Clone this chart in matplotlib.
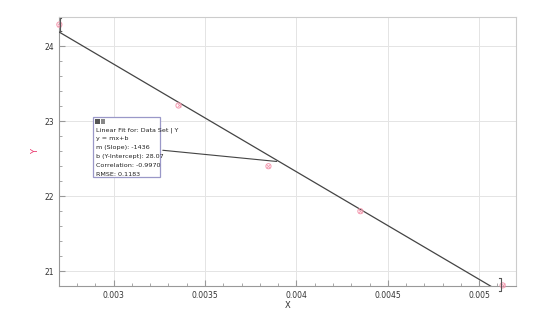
import matplotlib
matplotlib.use("Agg")
import matplotlib.pyplot as plt
import numpy as np
from matplotlib.ticker import MultipleLocator

# data
x_data = [0.002703, 0.003355, 0.003847, 0.004350, 0.005128]
y_data = [24.29, 23.21, 22.40, 21.80, 20.81]
slope = -1436
intercept = 28.07
fit_text = ["Linear Fit for: Data Set | Y",
            "y = mx+b",
            "m (Slope): -1436",
            "b (Y-Intercept): 28.07",
            "Correlation: -0.9970",
            "RMSE: 0.1183"]

fig = plt.figure(figsize=(5.6, 3.1), dpi=100)
ax = fig.add_axes([0.105, 0.077, 0.816, 0.868])

# fit line
xf = np.array([0.0027, 0.0052])
ax.plot(xf, slope * xf + intercept, color="#444444", lw=0.9, zorder=3)

# points
ax.scatter(x_data, y_data, s=14, facecolors="none", edgecolors="#f49ab0", lw=0.7, zorder=4, clip_on=False)
ax.scatter(x_data, y_data, s=7, marker="x", color="#f49ab0", lw=0.6, zorder=4, clip_on=False)

# fit range brackets
dx = 0.000007
x0, x1 = x_data[0] + 0.000003, x_data[-1] - 0.00001
ax.plot([x0 + dx, x0, x0, x0 + dx], [24.38, 24.38, 24.2, 24.2], color="#555555", lw=0.8,
        clip_on=False, zorder=5)
ax.plot([x1 - dx, x1, x1, x1 - dx], [20.91, 20.91, 20.74, 20.74], color="#555555", lw=0.8,
        clip_on=False, zorder=5)

ax.set_xlim(0.0027, 0.0052)
ax.set_ylim(20.8, 24.39)
ax.xaxis.set_major_locator(MultipleLocator(0.0005))
ax.xaxis.set_minor_locator(MultipleLocator(0.0001))
ax.yaxis.set_major_locator(MultipleLocator(1))
ax.yaxis.set_minor_locator(MultipleLocator(0.2))
ax.set_xticks([0.003, 0.0035, 0.004, 0.0045, 0.005])
ax.set_xticklabels(["0.003", "0.0035", "0.004", "0.0045", "0.005"])
ax.tick_params(which="both", direction="in", colors="#999999", labelcolor="#333333", labelsize=5.5)
ax.tick_params(which="major", length=4)
ax.tick_params(which="minor", length=2.5)
ax.grid(True, which="major", color="#e4e4e4", lw=0.7)
for s in ax.spines.values():
    s.set_color("#cccccc")
ax.spines["left"].set_color("#999999")
ax.spines["bottom"].set_color("#999999")

ax.set_xlabel("X", fontsize=6, color="#333333", labelpad=1)
ax.set_ylabel("Y", fontsize=6, color="#e8336a", labelpad=3)

# annotation box + connector
xc = 0.003907
ax.annotate("", xy=(xc, slope * xc + intercept), xycoords="data",
            xytext=(160 / 560, 1 - 150 / 310), textcoords="figure fraction",
            arrowprops=dict(arrowstyle="-", color="#444444", lw=0.8))
box = plt.Rectangle((93 / 560, 1 - 177 / 310), 67 / 560, 60 / 310, transform=fig.transFigure,
                    facecolor="white", edgecolor="#9a98c8", lw=0.9, zorder=5)
fig.patches.append(box)
fig.patches.append(plt.Rectangle((94.5 / 560, 1 - 124 / 310), 5 / 560, 5 / 310, transform=fig.transFigure,
                                 facecolor="#555555", edgecolor="none", zorder=6))
fig.patches.append(plt.Rectangle((100.5 / 560, 1 - 124 / 310), 4 / 560, 5 / 310, transform=fig.transFigure,
                                 facecolor="#888888", edgecolor="none", zorder=6))
for i, line in enumerate(fit_text):
    fig.text(96 / 560, 1 - (130 + i * 8.9) / 310, line, fontsize=4.6, color="#222222",
             va="center", ha="left", zorder=7)

fig.savefig("out.png", dpi=100, facecolor="white")
